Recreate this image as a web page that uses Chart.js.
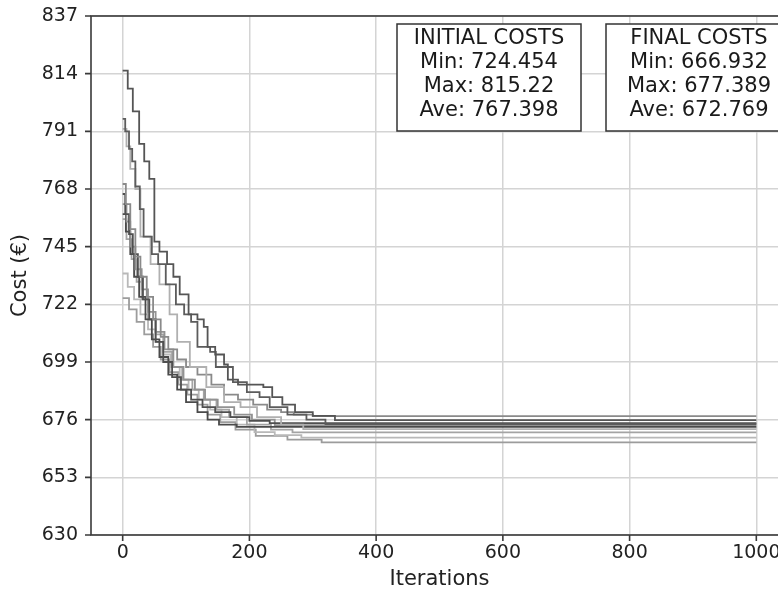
<!DOCTYPE html>
<html>
<head>
<meta charset="utf-8">
<script src="https://cdn.jsdelivr.net/npm/chart.js@4.4.1/dist/chart.umd.min.js"></script>
<style>
html, body { margin: 0; padding: 0; overflow: hidden; background: #fff; }
#wrap { width: 800px; height: 594px; }
</style>
</head>
<body>
<div id="wrap"><canvas id="myChart" width="800" height="594"></canvas></div>
<script>
// Ticks shown on the axes
const xTicks = [0, 200, 400, 600, 800, 1000];
const yTicks = [630, 653, 676, 699, 722, 745, 768, 791, 814, 837];

// Each run: [iteration, cost] at every step change
const run1 = [[0,815.22],[8,808],[16,799],[26,786],[34,779],[42,772],[50,747],[58,743],[70,738],[80,733],[90,726],[104,718],[118,716],[128,713],[134,705],[146,702],[160,698],[166,692],[182,690],[222,689],[236,685],[252,682],[272,679],[300,677.5],[335,675.8],[1000,675.8]];
const run2 = [[0,796],[4,791],[10,784],[15,779],[20,769],[27,760],[33,749],[46,742],[56,738],[68,730],[84,722],[97,718],[108,715],[118,705],[138,703],[147,697],[174,691],[196,687],[216,685],[232,681],[260,678],[290,676],[320,674.2],[1000,674.2]];
const run3 = [[0,792],[6,785],[12,776],[20,768],[28,749],[44,738],[58,730],[74,718],[86,707],[106,697],[132,689],[160,683],[186,681],[212,677],[250,674],[285,672.2],[1000,672.2]];
const run4 = [[0,770],[5,762],[12,752],[20,741],[28,733],[38,725],[48,716],[60,709],[72,704],[86,700],[100,697],[118,694],[140,690],[160,686],[182,684],[206,682],[228,680],[250,679],[270,678],[300,677.389],[1000,677.389]];
const run5 = [[0,766],[4,758],[10,750],[16,742],[24,733],[32,724],[42,716],[52,707],[64,699],[78,693],[92,688],[108,684],[126,681],[146,679],[170,677],[200,675.5],[232,674.6],[1000,674.6]];
const run6 = [[0,762],[6,755],[12,745],[20,736],[30,728],[40,719],[52,711],[66,704],[80,697],[96,692],[114,688],[130,684],[150,681],[176,678],[204,676],[240,673.8],[1000,673.8]];
const run7 = [[0,758],[5,751],[12,742],[18,733],[26,725],[36,716],[46,708],[58,701],[72,694],[86,688],[100,683],[118,679],[134,676],[152,674],[180,673.1],[1000,673.1]];
const run8 = [[0,756],[6,748],[14,740],[22,731],[30,724],[40,716],[52,710],[64,703],[78,697],[94,692],[110,688],[128,684],[148,680],[168,677],[196,674],[234,672],[268,670.9],[1000,670.9]];
const run9 = [[0,734.3],[8,729],[18,724],[28,718],[40,712],[52,707],[64,702],[76,697],[90,692],[104,688],[120,684],[138,680],[156,677],[180,674],[208,671],[240,669.8],[282,668.8],[1000,668.8]];
const run10 = [[0,724.454],[10,720],[22,715],[34,710],[48,705],[60,700],[74,695],[88,690],[102,686],[118,682],[134,678],[154,675],[178,672],[210,669.5],[260,668],[314,666.932],[1000,666.932]];

const runs = [run1, run2, run3, run4, run5, run6, run7, run8, run9, run10];
const runColors = ['#555555', '#5c5c5c', '#b0b0b0', '#8a8a8a', '#4f4f4f', '#929292', '#4a4a4a', '#a4a4a4', '#b8b8b8', '#9c9c9c'];

const initialBox = ['INITIAL COSTS', 'Min: 724.454', 'Max: 815.22', 'Ave: 767.398'];
const finalBox = ['FINAL COSTS', 'Min: 666.932', 'Max: 677.389', 'Ave: 672.769'];

const FONT = 'DejaVu Sans';

// frame, outward tick marks and the two text boxes (matplotlib look)
const framePlugin = {
    id: 'frame',
    afterDraw(chart) {
        const {ctx, chartArea: a, scales: {x, y}} = chart;
        ctx.save();
        ctx.strokeStyle = '#3a3a3a';
        ctx.lineWidth = 1.6;
        ctx.strokeRect(a.left, a.top, a.right - a.left, a.bottom - a.top);
        ctx.beginPath();
        xTicks.forEach(v => {
            const px = x.getPixelForValue(v);
            ctx.moveTo(px, a.bottom);
            ctx.lineTo(px, a.bottom + 6);
        });
        yTicks.forEach(v => {
            const py = y.getPixelForValue(v);
            ctx.moveTo(a.left, py);
            ctx.lineTo(a.left - 6, py);
        });
        ctx.stroke();

        const drawBox = (lines, left, w) => {
            const top = a.top + 8, h = 107;
            ctx.fillStyle = '#fff';
            ctx.fillRect(left, top, w, h);
            ctx.strokeStyle = '#333';
            ctx.lineWidth = 1.5;
            ctx.strokeRect(left, top, w, h);
            ctx.fillStyle = '#1a1a1a';
            ctx.font = '21px "' + FONT + '"';
            ctx.textAlign = 'center';
            ctx.textBaseline = 'middle';
            lines.forEach((t, i) => {
                ctx.fillText(t, left + w / 2, top + 15 + i * 24);
            });
        };
        drawBox(initialBox, a.left + 306, 184);
        drawBox(finalBox, a.left + 515, 186);
        ctx.restore();
    }
};

const datasets = runs.map((r, i) => ({
    label: 'Run ' + (i + 1),
    data: r.map(p => ({x: p[0], y: p[1]})),
    borderColor: runColors[i],
    borderWidth: 1.8,
    pointRadius: 0,
    stepped: true,
    fill: false,
}));

const config = {
    type: 'line',
    data: {datasets: datasets},
    plugins: [framePlugin],
    options: {
        responsive: false,
        animation: false,
        layout: {padding: {top: 16, right: 12, left: 0, bottom: 0}},
        plugins: {
            legend: {display: false},
            tooltip: {enabled: false},
        },
        scales: {
            x: {
                type: 'linear',
                min: -50,
                max: 1050,
                afterBuildTicks: s => { s.ticks = xTicks.map(v => ({value: v})); },
                afterFit: s => { s.height = 59; s.paddingLeft = 0; s.paddingRight = 0; },
                grid: {color: '#d4d4d4', lineWidth: 1.5, drawTicks: false},
                border: {display: false},
                ticks: {color: '#222', padding: 7, maxRotation: 0, font: {family: FONT, size: 19},
                        callback: v => String(v)},
                title: {display: true, text: 'Iterations', color: '#222', padding: {top: 0, bottom: 2}, font: {family: FONT, size: 21}},
            },
            y: {
                type: 'linear',
                min: 630,
                max: 837,
                afterBuildTicks: s => { s.ticks = yTicks.map(v => ({value: v})); },
                afterFit: s => { s.width = 91; s.paddingTop = 0; s.paddingBottom = 0; },
                grid: {color: '#d4d4d4', lineWidth: 1.5, drawTicks: false},
                border: {display: false},
                ticks: {color: '#222', padding: 13, font: {family: FONT, size: 19}},
                title: {display: true, text: 'Cost (€)', color: '#222', padding: {top: 8, bottom: 0}, font: {family: FONT, size: 21}},
            }
        }
    }
};

const myChart = new Chart(document.getElementById('myChart'), config);
</script>
</body>
</html>
